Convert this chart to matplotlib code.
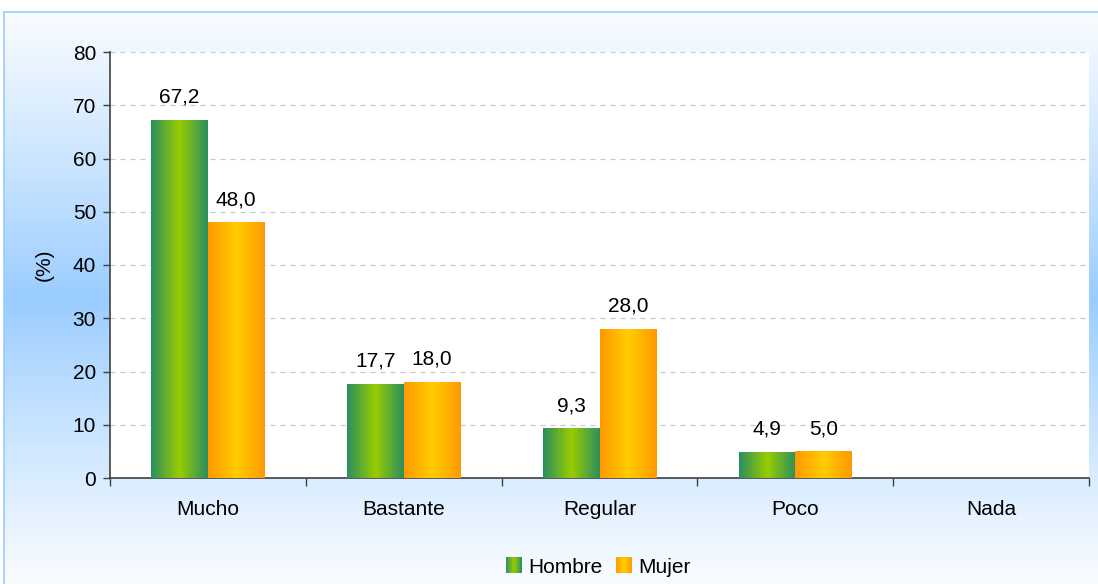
import numpy as np
import matplotlib
matplotlib.use("Agg")
import matplotlib.pyplot as plt
from matplotlib.patches import Rectangle
from matplotlib.legend_handler import HandlerBase
from matplotlib.colors import LinearSegmentedColormap

plt.rcParams['font.family'] = ['Liberation Sans', 'DejaVu Sans']

categories = ['Mucho', 'Bastante', 'Regular', 'Poco', 'Nada']
hombre = [67.2, 17.7, 9.3, 4.9, None]
mujer = [48.0, 18.0, 28.0, 5.0, None]
series_names = ['Hombre', 'Mujer']
yticks = [0, 10, 20, 30, 40, 50, 60, 70, 80]

FS = 15
W, H = 1098, 584
fig = plt.figure(figsize=(W / 100, H / 100), dpi=100)

# background gradient frame
bg = fig.add_axes([4 / W, 0, 1 - 4 / W, (H - 12) / H])
bg.set_zorder(-10)
t = np.linspace(0, 1, 256)
prof = np.abs(t - 0.5) * 2
prof = prof ** 0.9
top_c = np.array([0.98, 0.99, 1.0])
mid_c = np.array([0.60, 0.80, 1.0])
img = (mid_c[None, :] * (1 - prof[:, None]) + top_c[None, :] * prof[:, None])
img = np.repeat(img[:, None, :], 2, axis=1)
bg.imshow(img, aspect='auto', extent=[0, 1, 0, 1], origin='upper')
bg.set_xlim(0, 1); bg.set_ylim(0, 1)
bg.set_xticks([]); bg.set_yticks([])
for s in ['bottom', 'right']:
    bg.spines[s].set_visible(False)
for s in ['top', 'left']:
    bg.spines[s].set_color('#99ccff')
    bg.spines[s].set_linewidth(1.2)

ax = fig.add_axes([110 / W, (H - 478) / H, (1089 - 110) / W, (478 - 52) / H])
ax.set_facecolor('white')

x = np.arange(len(categories))
bw = 0.29
green_cmap = LinearSegmentedColormap.from_list('g', ['#2a8f60', '#99cc00', '#2a8f60'])
orange_cmap = LinearSegmentedColormap.from_list('o', ['#ff9900', '#ffcc00', '#ff9900'])
grad = np.linspace(0, 1, 256)[None, :]

def draw_series(vals, offset, cmap):
    for xi, v in zip(x, vals):
        if v is None:
            continue
        left = xi + offset
        bars = ax.bar(left, v, width=bw, align='edge', color='none', edgecolor='none', zorder=3)
        patch = bars[0]
        im = ax.imshow(grad, cmap=cmap, aspect='auto', extent=[left, left + bw, 0, v],
                       zorder=3, interpolation='bilinear')
        im.set_clip_path(patch)
        ax.annotate(f"{v:.1f}".replace('.', ','), xy=(left + bw / 2, v), xytext=(0, 9.5),
                    textcoords='offset points', ha='center', va='bottom', fontsize=FS,
                    color='black')

draw_series(hombre, -bw, green_cmap)
draw_series(mujer, 0, orange_cmap)

ax.set_xlim(-0.5, len(categories) - 0.5)
ax.set_ylim(0, 80)
ax.set_yticks(yticks)
ax.set_yticklabels([str(v) for v in yticks], fontsize=FS)
ax.set_xticks(x)
ax.set_xticklabels(categories, fontsize=FS)
ax.tick_params(axis='x', length=0, pad=16)
ax.set_xticks(np.arange(-0.5, len(categories)), minor=True)
ax.tick_params(axis='x', which='minor', length=6, width=1, color='#404040', direction='out')
ax.tick_params(axis='y', length=5, width=1, color='#404040', direction='out', pad=5)
ax.yaxis.grid(True, linestyle=(0, (4, 4)), color='#c8c8c8', linewidth=0.9)
ax.set_axisbelow(True)
for s in ['top', 'right']:
    ax.spines[s].set_visible(False)
for s in ['left', 'bottom']:
    ax.spines[s].set_color('#404040')
    ax.spines[s].set_linewidth(1.2)
ax.set_ylabel('(%)', fontsize=FS, labelpad=14)


class GradHandler(HandlerBase):
    def __init__(self, cmap):
        super().__init__()
        self.cmap = cmap

    def create_artists(self, legend, orig_handle, xdescent, ydescent, width, height, fontsize, trans):
        arts = []
        n = 8
        s = height
        x0 = -xdescent + (width - s)
        for i in range(n):
            c = self.cmap((i + 0.5) / n)
            r = Rectangle((x0 + i * s / n, -ydescent), s / n + 0.2, s, facecolor=c,
                          edgecolor='none', transform=trans)
            arts.append(r)
        return arts

h1 = Rectangle((0, 0), 1, 1)
h2 = Rectangle((0, 0), 1, 1)
fig.legend([h1, h2], series_names, loc='center', bbox_to_anchor=(598 / W, 1 - 567 / H),
           ncol=2, frameon=False, fontsize=FS, handlelength=0.8, handleheight=0.8,
           handletextpad=0.3, columnspacing=0.6,
           handler_map={h1: GradHandler(green_cmap), h2: GradHandler(orange_cmap)})

fig.savefig('out.png', dpi=100)
